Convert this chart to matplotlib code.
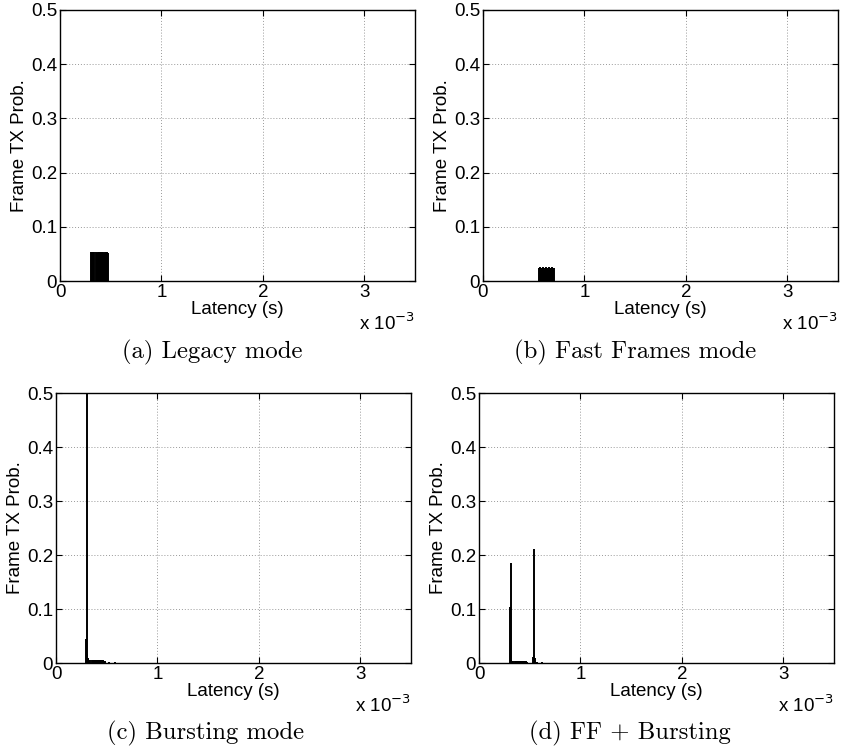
import matplotlib
matplotlib.use("Agg")
import matplotlib.pyplot as plt
from matplotlib.ticker import FuncFormatter

plt.rcParams["font.family"] = ["Liberation Sans", "DejaVu Sans"]

# latency in ms, frame TX probability
legacy_lat = [0.31, 0.32, 0.33, 0.34, 0.35, 0.36, 0.37, 0.38, 0.39, 0.40,
              0.41, 0.42, 0.43, 0.44, 0.45, 0.46, 0.47,
              0.50, 0.55, 0.60, 0.65, 0.70]
legacy_prob = [0.054, 0.053, 0.053, 0.054, 0.053, 0.052, 0.053, 0.053, 0.054, 0.053,
               0.053, 0.053, 0.052, 0.053, 0.053, 0.053, 0.052,
               0.0008, 0.0008, 0.0006, 0.0006, 0.0005]

ff_lat = [0.35, 0.40, 0.45, 0.50,
          0.55, 0.56, 0.57, 0.58, 0.59, 0.60, 0.61, 0.62, 0.63, 0.64,
          0.65, 0.66, 0.67, 0.68, 0.69, 0.70]
ff_prob = [0.0004, 0.0004, 0.0005, 0.0005,
           0.024, 0.025, 0.024, 0.024, 0.025, 0.024, 0.024, 0.025, 0.024, 0.024,
           0.025, 0.024, 0.024, 0.025, 0.024, 0.024]

burst_lat = [0.300, 0.305, 0.310, 0.315,
             0.32, 0.33, 0.34, 0.35, 0.36, 0.37, 0.38, 0.39, 0.40, 0.41,
             0.42, 0.43, 0.44, 0.45, 0.46, 0.47, 0.48,
             0.52, 0.58, 0.64, 0.70]
burst_prob = [0.045, 0.62, 0.017, 0.010,
              0.007, 0.006, 0.006, 0.005, 0.005, 0.006, 0.005, 0.005, 0.005, 0.005,
              0.005, 0.005, 0.005, 0.005, 0.005, 0.004, 0.003,
              0.001, 0.001, 0.0008, 0.0006]

ffb_lat = [0.302, 0.312, 0.318,
           0.33, 0.34, 0.35, 0.36, 0.37, 0.38, 0.39, 0.40, 0.41, 0.42,
           0.43, 0.44, 0.45, 0.46, 0.47,
           0.535, 0.540, 0.545, 0.550,
           0.57, 0.62, 0.67, 0.71]
ffb_prob = [0.103, 0.185, 0.006,
            0.003, 0.003, 0.003, 0.003, 0.003, 0.003, 0.003, 0.003, 0.003, 0.003,
            0.003, 0.003, 0.003, 0.003, 0.002,
            0.012, 0.015, 0.212, 0.010,
            0.001, 0.001, 0.0008, 0.0006]

captions = ["(a) Legacy mode", "(b) Fast Frames mode",
            "(c) Bursting mode", "(d) FF + Bursting"]
xticks_ms = [0, 1, 2, 3]
yticks = [0, 0.1, 0.2, 0.3, 0.4, 0.5]

panels = [(legacy_lat, legacy_prob), (ff_lat, ff_prob),
          (burst_lat, burst_prob), (ffb_lat, ffb_prob)]

W, H = 841, 749
fig = plt.figure(figsize=(W / 100, H / 100), dpi=100)

# axes boxes in pixels: left, top, right, bottom
boxes = [(60, 10, 415, 281), (483, 10, 838, 281),
         (56, 393, 411, 663), (479, 393, 834, 663)]
# caption centre x and baseline y, in pixels
cap_pos = [(212, 358), (635, 358), (206, 739), (630, 739)]

for (lat, prob), box, cap, cpos in zip(panels, boxes, captions, cap_pos):
    l, t, r, b = box
    ax = fig.add_axes([l / W, 1 - b / H, (r - l) / W, (b - t) / H])
    x = [v * 1e-3 for v in lat]
    ax.vlines(x, 0, prob, color="black", linewidth=1.4)
    ax.set_xlim(0, 3.5e-3)
    ax.set_ylim(0, 0.5)
    ax.set_xticks([v * 1e-3 for v in xticks_ms])
    ax.xaxis.set_major_formatter(FuncFormatter(lambda v, p: f"{v * 1e3:g}"))
    ax.set_yticks(yticks)
    ax.set_yticklabels([f"{v:g}" for v in yticks])
    ax.grid(True, linestyle=(0, (1, 2)), color="#999999", linewidth=0.7)
    ax.tick_params(direction="in", top=True, right=True, length=4,
                   width=0.8, labelsize=13.5, pad=2)
    for s in ax.spines.values():
        s.set_linewidth(1.0)
    ax.set_xlabel("Latency (s)", fontsize=13.5, labelpad=0)
    ax.set_ylabel("Frame TX Prob.", fontsize=13.5, labelpad=2)
    ax.text(1.0, -0.155, r"x 10$^{-3}$", transform=ax.transAxes,
            ha="right", va="center", fontsize=13.5)
    fig.text(cpos[0] / W, 1 - cpos[1] / H, cap, ha="center", va="baseline",
             fontsize=17.8, family="cmr10")

fig.savefig("out.png", dpi=100)
